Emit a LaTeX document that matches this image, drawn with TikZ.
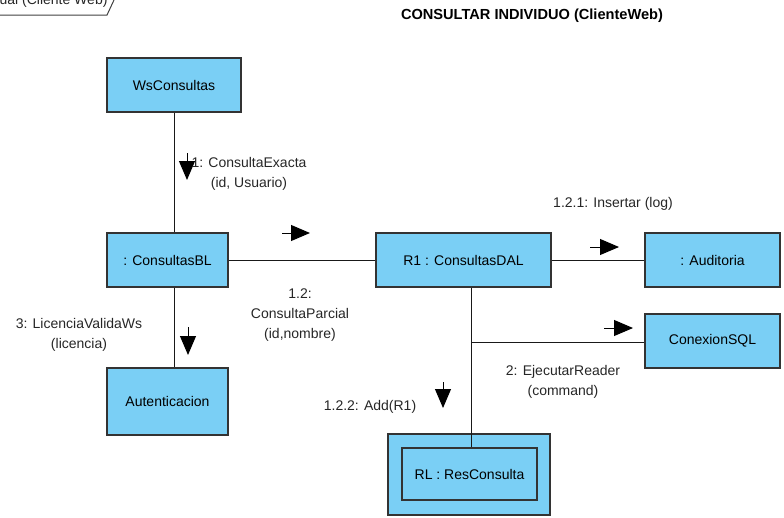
\documentclass[tikz,border=0pt]{standalone}
\usepackage{fontspec}
\setmainfont{Liberation Sans}
\usetikzlibrary{arrows.meta}
\definecolor{vpazul}{RGB}{122,207,245}

\begin{document}
\begin{tikzpicture}[x=1pt, y=-1pt,
  obj/.style={draw=black!80, line width=1.3pt, fill=vpazul, inner sep=0pt,
              font=\fontsize{14}{18}\selectfont},
  lbl/.style={font=\fontsize{14}{20}\selectfont, align=center, text=black!85},
  msg/.style={-{Triangle[length=19pt, width=16pt]}, line width=1pt},
  enlace/.style={line width=1pt, black!90},
]
  \useasboundingbox (0,0) rectangle (784,517);
  % Marco del diagrama y titulo
  \node[lbl, anchor=east] (marco) at (111,1) {ual (Cliente Web)};
  \draw[line width=1pt, black!75] (0,15) -- (107,15) -- (114,0);
  \node[font=\fontsize{14.6}{16}\selectfont\bfseries] (titulo) at (532,16) {CONSULTAR INDIVIDUO (ClienteWeb)};
  % Objetos
  \node[obj, minimum width=134, minimum height=54] (ws)  at (174,85)    {WsConsultas};
  \node[obj, minimum width=121, minimum height=54] (bl)  at (167.5,260) {: ConsultasBL};
  \node[obj, minimum width=121, minimum height=67] (aut) at (167.5,401.5) {Autenticacion};
  \node[obj, minimum width=175, minimum height=54] (dal) at (463.5,260) {R1 : ConsultasDAL};
  \node[obj, minimum width=135, minimum height=54] (aud) at (712.5,260) {: Auditoria};
  \node[obj, minimum width=135, minimum height=54] (sql) at (712.5,341) {ConexionSQL};
  \node[obj, minimum width=162, minimum height=81] (resout) at (469,474.5) {};
  \node[obj, minimum width=135, minimum height=52] (res)    at (469.5,474) {RL : ResConsulta};
  % Enlaces
  \coordinate (eje) at (174,0);
  \coordinate (cruce) at (471,342);
  \draw[enlace] (ws.south) -- (eje |- bl.north);
  \draw[enlace] (eje |- bl.south) -- (eje |- aut.north);
  \draw[enlace] (bl.east) -- (dal.west);
  \draw[enlace] (dal.east) -- (aud.west);
  \draw[enlace] (cruce |- dal.south) -- (cruce |- res.north);
  \draw[enlace] (cruce) -- (cruce -| sql.west);
  % Mensajes
  \coordinate (m1)   at (187,153);
  \coordinate (m3)   at (188,327);
  \coordinate (m12)  at (282,233);
  \coordinate (m121) at (590,247);
  \coordinate (m2)   at (604,328);
  \coordinate (m122) at (443,382);
  \draw[msg] (m1)   -- ++(0,27);
  \draw[msg] (m3)   -- ++(0,28);
  \draw[msg] (m12)  -- ++(28,0);
  \draw[msg] (m121) -- ++(29,0);
  \draw[msg] (m2)   -- ++(29,0);
  \draw[msg] (m122) -- ++(0,26);
  % Etiquetas
  \node[lbl] (l1)   at (249,174) {1: ConsultaExacta\\(id, Usuario)};
  \node[lbl] (l3)   at (79,335)  {3: LicenciaValidaWs\\(licencia)};
  \node[lbl] (l12)  at (300,315) {1.2:\\ConsultaParcial\\(id,nombre)};
  \node[lbl] (l121) at (613,204) {1.2.1: Insertar (log)};
  \node[lbl] (l2)   at (563,382) {2: EjecutarReader\\(command)};
  \node[lbl] (l122) at (370,407) {1.2.2: Add(R1)};
\end{tikzpicture}
\end{document}
